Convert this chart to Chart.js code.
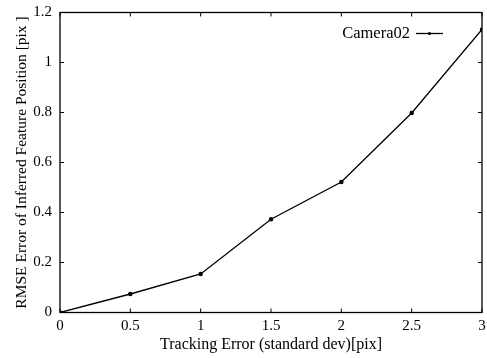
<!DOCTYPE html>
<html>
<head>
<meta charset="utf-8">
<script src="https://cdn.jsdelivr.net/npm/chart.js@4"></script>
<style>
html,body{margin:0;padding:0;background:#fff}
#wrap{width:487px;height:358px;position:relative}
</style>
</head>
<body>
<div id="wrap"><canvas id="c"></canvas></div>
<script>
// donnees
var xValues=[0,0.5,1,1.5,2,2.5,3]
var rmse=[0,0.074,0.154,0.373,0.522,0.798,1.132]
var seriesName="Camera02"
var xTitle="Tracking Error (standard dev)[pix]"
var yTitle="RMSE Error of Inferred Feature Position [pix ]"

var font_family="'Liberation Serif','DejaVu Serif',serif"
var ink="#000"

// cadre + graduations vers l'interieur + legende dans la zone du graphe
const framePlugin={
    id:'frameTicks',
    afterDraw:(chart)=>{
        const {ctx,chartArea:a,scales}=chart
        ctx.save()
        ctx.strokeStyle=ink
        ctx.lineWidth=1.3
        ctx.strokeRect(a.left,a.top,a.right-a.left,a.bottom-a.top)
        ctx.lineWidth=1
        const len=4
        ctx.beginPath()
        scales.x.ticks.forEach(t=>{
            const px=scales.x.getPixelForValue(t.value)
            ctx.moveTo(px,a.bottom);ctx.lineTo(px,a.bottom-len)
            ctx.moveTo(px,a.top);ctx.lineTo(px,a.top+len)
        })
        scales.y.ticks.forEach(t=>{
            const py=scales.y.getPixelForValue(t.value)
            ctx.moveTo(a.left,py);ctx.lineTo(a.left+len,py)
            ctx.moveTo(a.right,py);ctx.lineTo(a.right-len,py)
        })
        ctx.stroke()

        // legende : texte puis echantillon de ligne
        const ds=chart.data.datasets[0]
        ctx.font="16.5px "+font_family
        ctx.fillStyle=ink
        ctx.textAlign="right"
        ctx.textBaseline="middle"
        const ly=a.top+21, lx=a.right-72
        ctx.fillText(ds.label,lx,ly)
        ctx.strokeStyle=ds.borderColor
        ctx.lineWidth=ds.borderWidth
        ctx.beginPath()
        ctx.moveTo(lx+6,ly);ctx.lineTo(lx+33,ly)
        ctx.stroke()
        ctx.beginPath()
        ctx.arc(lx+19.5,ly,1.6,0,Math.PI*2)
        ctx.fillStyle=ink
        ctx.fill()
        ctx.restore()
    }
}

var config={
    type:'line',
    data:{
        labels:xValues,
        datasets:[{
            label:seriesName,
            data:xValues.map((x,i)=>({x:x,y:rmse[i]})),
            borderColor:ink,
            backgroundColor:ink,
            borderWidth:1.3,
            pointRadius:1.6,
            pointHoverRadius:1.6,
            fill:false,
            tension:0
        }]
    },
    options:{
        responsive:true,
        maintainAspectRatio:false,
        animation:false,
        layout:{padding:{top:12.5,right:5,left:0,bottom:0}},
        plugins:{
            legend:{display:false},
            tooltip:{enabled:false}
        },
        scales:{
            x:{
                type:'linear',
                min:0,max:3,
                grid:{display:false,drawTicks:false},
                border:{display:false},
                ticks:{stepSize:0.5,color:ink,padding:5,font:{family:font_family,size:15},maxRotation:0,
                    callback:(v)=>String(v)},
                title:{display:true,text:xTitle,color:ink,font:{family:font_family,size:16},padding:{top:0,bottom:3.5}},
                afterFit:(s)=>{s.height=45.5;s.paddingLeft=0;s.paddingRight=0}
            },
            y:{
                min:0,max:1.2,
                grid:{display:false,drawTicks:false},
                border:{display:false},
                ticks:{stepSize:0.2,color:ink,padding:8,font:{family:font_family,size:15},
                    callback:(v)=>String(Math.round(v*10)/10)},
                title:{display:true,text:yTitle,color:ink,font:{family:font_family,size:15.5},padding:{top:12.5,bottom:0}},
                afterFit:(s)=>{s.width=60;s.paddingTop=0;s.paddingBottom=0}
            }
        }
    },
    plugins:[framePlugin]
}

var chart=new Chart(document.getElementById('c'),config)
</script>
</body>
</html>
